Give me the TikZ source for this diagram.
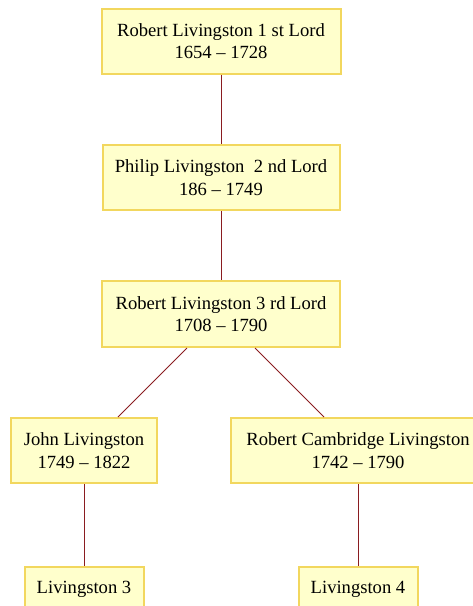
\documentclass[tikz,border=0pt]{standalone}
\usepackage{fontspec}
\setmainfont{Liberation Serif}
\usetikzlibrary{calc}
\definecolor{boxfill}{HTML}{FFFFCC}
\definecolor{boxline}{HTML}{F2D75E}
\definecolor{linkred}{HTML}{8A1C20}
\begin{document}
\begin{tikzpicture}[x=1pt,y=-1pt,
  person/.style={draw=boxline, fill=boxfill, line width=2pt, inner sep=0pt,
    align=center, font=\fontsize{18.6}{22.5}\selectfont},
  link/.style={draw=linkred, line width=1pt}]
\useasboundingbox (0,0) rectangle (473,606);
\clip (0,0) rectangle (473,606);
% generations
\node[person, minimum width=239, minimum height=65] (r1) at (221,41)
  {Robert Livingston 1 st Lord\\1654 -- 1728};
\node[person, minimum width=237, minimum height=65] (p2) at (221,177.5)
  {Philip Livingston\ \ 2 nd Lord\\186 -- 1749};
\node[person, minimum width=238, minimum height=66] (r3) at (221,314)
  {Robert Livingston 3 rd Lord\\1708 -- 1790};
\node[person, minimum width=146, minimum height=65] (jl) at (84,450.5)
  {John Livingston\\1749 -- 1822};
\node[person, minimum width=254, minimum height=65] (rc) at (358,450.5)
  {Robert Cambridge Livingston\\1742 -- 1790};
\node[person, minimum width=119, minimum height=44] (l3) at (84,589)
  {Livingston 3};
\node[person, minimum width=119, minimum height=44] (l4) at (358,589)
  {Livingston 4};
% descent lines
\draw[link] (r1.south) -- (p2.north);
\draw[link] (p2.south) -- (r3.north);
\draw[link] ($(r3.south)+(-34,0)$) -- ($(jl.north)+(34,0)$);
\draw[link] ($(r3.south)+(34,0)$) -- ($(rc.north)+(-34,0)$);
\draw[link] (jl.south) -- (l3.north);
\draw[link] (rc.south) -- (l4.north);
\end{tikzpicture}
\end{document}
